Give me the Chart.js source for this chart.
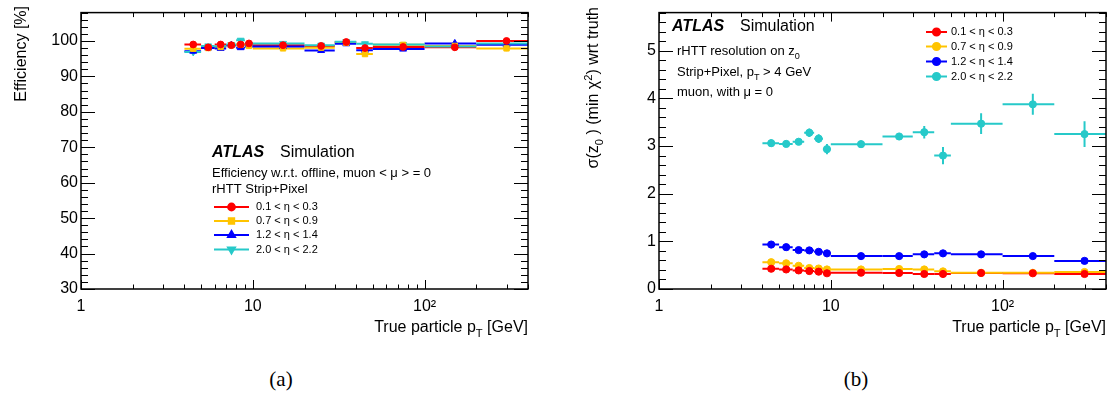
<!DOCTYPE html>
<html lang="en">

<head>
  <meta charset="UTF-8" />
  <title>rHTT - eficiência e resolução em z0</title>
  <script src="https://cdn.jsdelivr.net/npm/chart.js"></script>
  <style>
    body {
      margin: 0;
      background: #fff;
      width: 1113px;
      height: 397px;
      position: relative;
      overflow: hidden;
    }

    canvas {
      position: absolute;
      top: 0;
    }

    #chartEficiencia {
      left: 0;
    }

    #chartResolucao {
      left: 560px;
    }

    .rotulo {
      position: absolute;
      top: 367px;
      width: 40px;
      text-align: center;
      font-family: "Liberation Serif", "DejaVu Serif", serif;
      font-size: 21px;
      color: #000;
    }
  </style>
</head>

<body>
  <canvas id="chartEficiencia" width="545" height="345"></canvas>
  <canvas id="chartResolucao" width="553" height="345"></canvas>
  <div class="rotulo" style="left:261px">(a)</div>
  <div class="rotulo" style="left:836px">(b)</div>

  <script>
    // bins em pT (GeV)
    const binInicio = [4, 5, 6, 7, 8, 9, 10, 20, 30, 40, 50, 100, 200];
    const binFim = [5, 6, 7, 8, 9, 10, 20, 30, 40, 50, 100, 200, 400];
    const binCentro = [4.5, 5.5, 6.5, 7.5, 8.5, 9.5, 15, 25, 35, 45, 75, 150, 300];
    const faixasEta = ['0.1 < η < 0.3', '0.7 < η < 0.9', '1.2 < η < 1.4', '2.0 < η < 2.2'];
    const cores = ['#ff0000', '#ffc400', '#0000ff', '#26c9c9'];

    // (a) eficiência [%]
    const efEta01 = [99.0, 98.2, 99.0, 98.8, 99.0, 99.3, 98.8, 98.6, 99.7, 98.0, 98.3, 98.2, 100.0];
    const efEta07 = [97.8, 98.0, 98.3, 98.8, 98.9, 98.6, 97.9, 98.1, 99.5, 96.3, 98.9, 98.6, 97.9];
    const efEta12 = [97.1, 98.0, 97.9, 98.8, 98.1, 98.8, 98.4, 97.3, 99.2, 97.4, 97.7, 99.3, 98.9];
    const efEta20 = [96.9, 98.6, 98.5, 99.0, 100.2, 99.0, 99.3, 98.8, 99.8, 99.2, 99.0, 98.4, 99.3];
    const efErro = [0.5, 0.5, 0.5, 0.5, 0.5, 0.5, 0.3, 0.4, 0.4, 0.6, 0.4, 0.5, 0.8];

    // (b) resolução sigma(z0)
    const resEta01 = [0.425, 0.41, 0.39, 0.377, 0.364, 0.33, 0.343, 0.336, 0.315, 0.315, 0.336, 0.33, 0.315];
    const resEta07 = [0.562, 0.54, 0.487, 0.44, 0.43, 0.41, 0.41, 0.42, 0.41, 0.37, 0.34, 0.34, 0.357];
    const resEta12 = [0.933, 0.878, 0.816, 0.81, 0.78, 0.748, 0.69, 0.69, 0.727, 0.748, 0.727, 0.69, 0.59];
    const resEta20 = [3.06, 3.045, 3.09, 3.28, 3.155, 2.935, 3.04, 3.20, 3.29, 2.80, 3.47, 3.875, 3.25];
    const resErroBaixo = [0.01, 0.01, 0.01, 0.01, 0.01, 0.01, 0.01, 0.01, 0.01, 0.01, 0.01, 0.01, 0.01];
    const resErro20 = [0.075, 0.06, 0.07, 0.09, 0.09, 0.11, 0.07, 0.07, 0.13, 0.18, 0.22, 0.22, 0.27];

    // ticks dos eixos
    const xMaiores = [1, 10, 100];
    const xMenores = [2, 3, 4, 5, 6, 7, 8, 9, 20, 30, 40, 50, 60, 70, 80, 90, 200, 300, 400];
    const yMaioresEf = [30, 40, 50, 60, 70, 80, 90, 100];
    const yMaioresRes = [0, 1, 2, 3, 4, 5];

    const FONTE = "'Liberation Sans', Arial, sans-serif";
    Chart.defaults.font.family = FONTE;
    Chart.defaults.color = '#000';

    function pontos(valores) {
      return valores.map((v, i) => ({ x: binCentro[i], y: v }));
    }

    // escreve texto com subscrito / sobrescrito (partes: [texto, 'n'|'sub'|'sup'])
    function textoRico(ctx, x, y, partes, tam, alinhar) {
      const fonte = p => (p[1] === 'n' ? tam : tam * 0.7) + 'px ' + FONTE;
      let total = 0;
      partes.forEach(p => { ctx.font = fonte(p); total += ctx.measureText(p[0]).width; });
      let cx = alinhar === 'right' ? x - total : x;
      ctx.textAlign = 'left';
      ctx.textBaseline = 'alphabetic';
      partes.forEach(p => {
        ctx.font = fonte(p);
        let dy = 0;
        if (p[1] === 'sub') dy = tam * 0.3;
        if (p[1] === 'sup') dy = -tam * 0.4;
        ctx.fillText(p[0], cx, y + dy);
        cx += ctx.measureText(p[0]).width;
      });
    }

    // barras de erro estilo ROOT (largura do bin + erro vertical)
    const barrasErro = {
      id: 'barrasErro',
      beforeDatasetsDraw(chart) {
        const { ctx, scales: { x, y } } = chart;
        ctx.save();
        chart.data.datasets.forEach(ds => {
          ctx.strokeStyle = ds.borderColor;
          ctx.lineWidth = 2;
          ds.data.forEach((p, i) => {
            const py = y.getPixelForValue(p.y);
            const px = x.getPixelForValue(p.x);
            ctx.beginPath();
            ctx.moveTo(x.getPixelForValue(binInicio[i]), py);
            ctx.lineTo(x.getPixelForValue(binFim[i]), py);
            ctx.moveTo(px, y.getPixelForValue(p.y - ds.erro[i]));
            ctx.lineTo(px, y.getPixelForValue(p.y + ds.erro[i]));
            ctx.stroke();
          });
        });
        ctx.restore();
      }
    };

    // moldura com ticks para dentro nos 4 lados
    function moldura(yMaiores, passoMenor) {
      return {
        id: 'moldura',
        afterDraw(chart) {
          const { ctx, chartArea: a, scales: { x, y } } = chart;
          ctx.save();
          ctx.strokeStyle = '#000';
          ctx.lineWidth = 1;
          ctx.beginPath();
          for (let v = y.min; v <= y.max + 1e-9; v += passoMenor) {
            const py = Math.round(y.getPixelForValue(v)) + 0.5;
            const maior = yMaiores.some(m => Math.abs(m - v) < 1e-6);
            const L = maior ? 14 : 7;
            ctx.moveTo(a.left, py); ctx.lineTo(a.left + L, py);
            ctx.moveTo(a.right, py); ctx.lineTo(a.right - L, py);
          }
          xMaiores.concat(xMenores).forEach(v => {
            const px = Math.round(x.getPixelForValue(v)) + 0.5;
            const L = xMaiores.includes(v) ? 9 : 4.5;
            ctx.moveTo(px, a.bottom); ctx.lineTo(px, a.bottom - L);
            ctx.moveTo(px, a.top); ctx.lineTo(px, a.top + L);
          });
          ctx.stroke();
          ctx.lineWidth = 1.5;
          ctx.strokeRect(a.left, a.top, a.right - a.left, a.bottom - a.top);
          // título do eixo x
          ctx.fillStyle = '#000';
          textoRico(ctx, a.right, 332, [['True particle p', 'n'], ['T', 'sub'], [' [GeV]', 'n']], 16, 'right');
          ctx.restore();
        }
      };
    }

    function legenda(ctx, x0, x1, xt, linhas, estilos, tam) {
      faixasEta.forEach((txt, i) => {
        const ly = linhas[i];
        ctx.strokeStyle = cores[i];
        ctx.fillStyle = cores[i];
        ctx.lineWidth = 2;
        ctx.beginPath();
        ctx.moveTo(x0, ly); ctx.lineTo(x1, ly);
        ctx.stroke();
        Chart.helpers.drawPoint(ctx, {
          pointStyle: estilos[i].estilo, radius: estilos[i].raio,
          rotation: estilos[i].rot, borderWidth: 1
        }, (x0 + x1) / 2, ly);
        ctx.fillStyle = '#000';
        ctx.font = tam + 'px ' + FONTE;
        ctx.textBaseline = 'middle';
        ctx.textAlign = 'left';
        ctx.fillText(txt, xt, ly);
      });
    }

    function eixos(yMin, yMax, yMaiores, larguraY) {
      return {
        x: {
          type: 'logarithmic', min: 1, max: 400,
          grid: { display: false, drawTicks: false }, border: { display: false },
          afterBuildTicks: s => { s.ticks = xMaiores.map(v => ({ value: v })); },
          afterFit: s => { s.height = 56; },
          ticks: {
            padding: 8, font: { size: 16 }, maxRotation: 0, autoSkip: false,
            callback: v => (v === 100 ? '10²' : String(v))
          }
        },
        y: {
          min: yMin, max: yMax,
          grid: { display: false, drawTicks: false }, border: { display: false },
          afterBuildTicks: s => { s.ticks = yMaiores.map(v => ({ value: v })); },
          afterFit: s => { s.width = larguraY; },
          ticks: { padding: 3, font: { size: 16 } }
        }
      };
    }

    const estilosEf = [
      { estilo: 'circle', raio: 3.4, rot: 0 },
      { estilo: 'rect', raio: 3.8, rot: 0 },
      { estilo: 'triangle', raio: 4, rot: 0 },
      { estilo: 'triangle', raio: 4, rot: 180 }
    ];
    const valoresEf = [efEta01, efEta07, efEta12, efEta20];

    new Chart(document.getElementById('chartEficiencia'), {
      type: 'scatter',
      data: {
        datasets: valoresEf.map((vals, i) => ({
          label: faixasEta[i],
          data: pontos(vals),
          erro: efErro,
          borderColor: cores[i],
          backgroundColor: cores[i],
          pointStyle: estilosEf[i].estilo,
          pointRadius: estilosEf[i].raio,
          pointRotation: estilosEf[i].rot,
          pointBorderWidth: 1
        }))
      },
      options: {
        responsive: false,
        animation: false,
        layout: { padding: { top: 6, right: 17, left: 0, bottom: 0 } },
        plugins: { legend: { display: false }, tooltip: { enabled: false } },
        scales: eixos(30, 108, yMaioresEf, 81)
      },
      plugins: [barrasErro, moldura(yMaioresEf, 2), {
        id: 'textosEf',
        afterDraw(chart) {
          const ctx = chart.ctx;
          ctx.save();
          ctx.fillStyle = '#000';
          ctx.textBaseline = 'alphabetic';
          ctx.font = 'italic bold 16px ' + FONTE;
          ctx.fillText('ATLAS', 212, 157);
          ctx.font = '16px ' + FONTE;
          ctx.fillText('Simulation', 280, 157);
          ctx.font = '13px ' + FONTE;
          ctx.fillText('Efficiency w.r.t. offline, muon < μ > = 0', 212, 177);
          ctx.fillText('rHTT Strip+Pixel', 212, 193);
          legenda(ctx, 214, 249, 256, [207, 221, 235, 249.5], estilosEf, 11);
          // título do eixo y
          ctx.translate(22, 6);
          ctx.rotate(-Math.PI / 2);
          ctx.font = '16px ' + FONTE;
          ctx.textAlign = 'right';
          ctx.fillText('Efficiency [%]', 0, 0);
          ctx.restore();
        }
      }]
    });

    const estilosRes = [0, 1, 2, 3].map(() => ({ estilo: 'circle', raio: 3.6, rot: 0 }));
    const valoresRes = [resEta01, resEta07, resEta12, resEta20];
    const errosRes = [resErroBaixo, resErroBaixo, resErroBaixo, resErro20];

    new Chart(document.getElementById('chartResolucao'), {
      type: 'scatter',
      data: {
        datasets: valoresRes.map((vals, i) => ({
          label: faixasEta[i],
          data: pontos(vals),
          erro: errosRes[i],
          borderColor: cores[i],
          backgroundColor: cores[i],
          pointStyle: 'circle',
          pointRadius: 3.6,
          pointBorderWidth: 1
        }))
      },
      options: {
        responsive: false,
        animation: false,
        layout: { padding: { top: 6, right: 7, left: 0, bottom: 0 } },
        plugins: { legend: { display: false }, tooltip: { enabled: false } },
        scales: eixos(0, 5.8, yMaioresRes, 99)
      },
      plugins: [barrasErro, moldura(yMaioresRes, 0.2), {
        id: 'textosRes',
        afterDraw(chart) {
          const ctx = chart.ctx;
          ctx.save();
          ctx.fillStyle = '#000';
          ctx.textBaseline = 'alphabetic';
          ctx.font = 'italic bold 16px ' + FONTE;
          ctx.fillText('ATLAS', 112, 31);
          ctx.font = '16px ' + FONTE;
          ctx.fillText('Simulation', 180, 31);
          textoRico(ctx, 117, 55, [['rHTT resolution on z', 'n'], ['0', 'sub']], 13, 'left');
          textoRico(ctx, 117, 76, [['Strip+Pixel, p', 'n'], ['T', 'sub'], [' > 4 GeV', 'n']], 13, 'left');
          textoRico(ctx, 117, 96, [['muon, with μ = 0', 'n']], 13, 'left');
          legenda(ctx, 366, 387, 391, [32, 46.5, 61.5, 76.5], estilosRes, 11);
          // título do eixo y
          ctx.translate(38, 7);
          ctx.rotate(-Math.PI / 2);
          textoRico(ctx, 0, 0, [['σ(z', 'n'], ['0', 'sub'], [' ) (min χ', 'n'], ['2', 'sup'], [') wrt truth', 'n']], 16, 'right');
          ctx.restore();
        }
      }]
    });
  </script>
</body>

</html>
